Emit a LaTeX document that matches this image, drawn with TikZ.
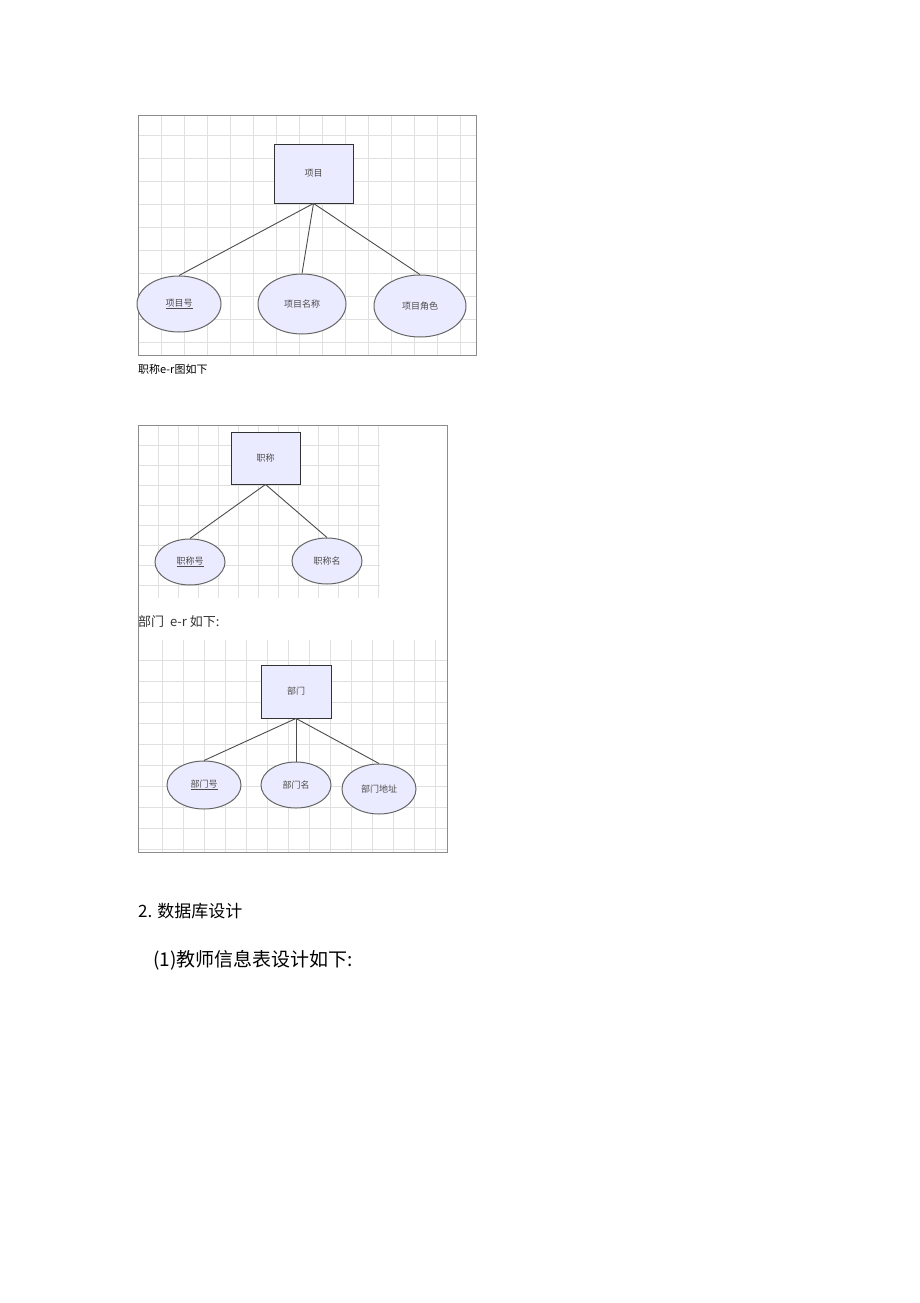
\documentclass[tikz,border=0pt]{standalone}
\usepackage{fontspec}
\usetikzlibrary{shapes.geometric}
\setmainfont{Liberation Sans}
\newfontfamily\cjk{Noto Sans CJK SC}
\begin{document}
\begin{tikzpicture}[x=1pt,y=-1pt,
  ent/.style={draw=black!80,fill=blue!8!white,line width=0.9pt,minimum width=#1,inner sep=0},
  attr/.style={ellipse,draw=black!60,fill=blue!8!white,line width=1pt,inner sep=0},
  lk/.style={draw=black!70,line width=0.9pt},
  gl/.style={draw=black!12,line width=0.5pt},
  lbl/.style={font=\cjk\fontsize{9}{9}\selectfont,text=black!70}]
\useasboundingbox (0,0) rectangle (920,1303);
\fill[white] (0,0) rectangle (920,1303);
% grids
\foreach \x in {161,184,...,476} \draw[gl] (\x,115) -- (\x,355);
\foreach \y in {135,158,...,355} \draw[gl] (138,\y) -- (476,\y);
\foreach \x in {158,178,...,380} \draw[gl] (\x,425) -- (\x,598);
\foreach \y in {445,465,...,598} \draw[gl] (138,\y) -- (380,\y);
\foreach \x in {162,183,...,447} \draw[gl] (\x,640) -- (\x,852);
\foreach \y in {660,681,...,852} \draw[gl] (138,\y) -- (447,\y);
\draw[black!45,line width=0.7pt] (138,115) rectangle (476,355);
\draw[black!45,line width=0.7pt] (138,425) rectangle (447,852);
% diagram 1
\node[ent=79pt,minimum height=59pt,lbl] (p) at (313.5,173.5) {项目};
\node[attr,minimum width=84pt,minimum height=56pt,lbl] (p1) at (179,304) {\underline{项目号}};
\node[attr,minimum width=88pt,minimum height=60pt,lbl] (p2) at (302,304) {项目名称};
\node[attr,minimum width=92pt,minimum height=62pt,lbl] (p3) at (420,306) {项目角色};
\foreach \t in {p1,p2,p3} \draw[lk] (p.south) -- (\t.north);
\node[anchor=west,font=\cjk\fontsize{11}{11}\selectfont,inner sep=0] (t1) at (138,369) {职称e-r图如下};
% diagram 2
\node[ent=69pt,minimum height=52pt,lbl] (z) at (265.5,458) {职称};
\node[attr,minimum width=70pt,minimum height=46pt,lbl] (z1) at (190,562) {\underline{职称号}};
\node[attr,minimum width=70pt,minimum height=46pt,lbl] (z2) at (327,561) {职称名};
\foreach \t in {z1,z2} \draw[lk] (z.south) -- (\t.north);
\node[anchor=west,font=\cjk\fontsize{13}{13}\selectfont,inner sep=0,text=black!80] (t2) at (138,622) {部门\ \ e-r 如下:};
% diagram 3
\node[ent=70pt,minimum height=53pt,lbl] (d) at (296,691.5) {部门};
\node[attr,minimum width=74pt,minimum height=48pt,lbl] (d1) at (204,785) {\underline{部门号}};
\node[attr,minimum width=70pt,minimum height=46pt,lbl] (d2) at (296,785) {部门名};
\node[attr,minimum width=74pt,minimum height=50pt,lbl] (d3) at (379,789) {部门地址};
\foreach \t in {d1,d2,d3} \draw[lk] (d.south) -- (\t.north);
% headings
\node[anchor=west,font=\cjk\fontsize{17}{17}\selectfont,inner sep=0] (h1) at (138,911) {2. 数据库设计};
\node[anchor=west,font=\cjk\fontsize{19}{19}\selectfont,inner sep=0] (h2) at (153,960) {(1)教师信息表设计如下:};
\end{tikzpicture}
\end{document}
